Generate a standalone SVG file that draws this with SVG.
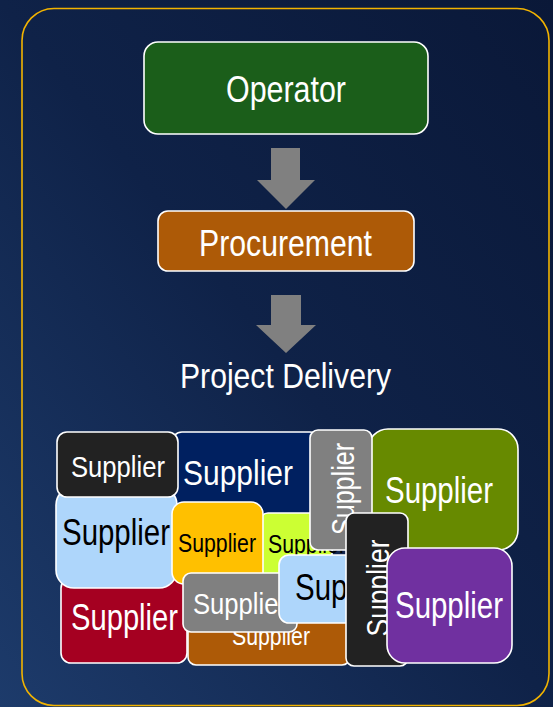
<svg xmlns="http://www.w3.org/2000/svg" width="553" height="707" viewBox="0 0 553 707">
  <defs>
    <linearGradient id="bg" x1="0" y1="1" x2="1" y2="0">
      <stop offset="0" stop-color="#1d3b6b"/>
      <stop offset="0.5" stop-color="#0f2248"/>
      <stop offset="1" stop-color="#0a1838"/>
    </linearGradient>
  </defs>
  <style>
    text { font-family: "Liberation Sans Narrow", "Liberation Sans", Arial, sans-serif; font-stretch: condensed; }
    .box { stroke: #ffffff; stroke-width: 1.6; }
    .w { fill: #ffffff; }
    .k { fill: #000000; }
    .arrow { fill: #808080; }
  </style>

  <rect x="0" y="0" width="553" height="707" fill="url(#bg)"/>
  <rect x="22" y="8.5" width="527" height="697" rx="32" fill="none" stroke="#f2b300" stroke-width="1.6"/>

  <!-- process chain -->
  <g id="operator">
    <rect class="box" x="144" y="42" width="284" height="92" rx="14" fill="#1b5e1a"/>
    <text class="w" x="286" y="102" font-size="37" text-anchor="middle" textLength="120" lengthAdjust="spacingAndGlyphs">Operator</text>
  </g>
  <g id="procurement">
    <rect class="box" x="158" y="211" width="256" height="60" rx="10" fill="#ad5a07"/>
    <text class="w" x="285.5" y="256" font-size="36" text-anchor="middle" textLength="173" lengthAdjust="spacingAndGlyphs">Procurement</text>
  </g>
  <g id="project-delivery">
    <text class="w" x="285.5" y="388" font-size="35" text-anchor="middle" textLength="211" lengthAdjust="spacingAndGlyphs">Project Delivery</text>
  </g>

  <g id="connectors">
    <polygon class="arrow" points="271,148 300,148 300,180 315,180 286,209 257,180 271,180"/>
    <polygon class="arrow" points="271,295 301,295 301,325 316,325 286,353 256,325 271,325"/>
  </g>

  <!-- supplier cluster, back to front -->
  <g id="supplier-navy">
    <rect class="box" x="172" y="432" width="148" height="84" rx="10" fill="#002060"/>
    <text class="w" x="183" y="485" font-size="35" textLength="110" lengthAdjust="spacingAndGlyphs">Supplier</text>
  </g>
  <g id="supplier-red">
    <rect class="box" x="61" y="578" width="126" height="85" rx="10" fill="#a50021"/>
    <text class="w" x="71" y="630" font-size="36" textLength="107" lengthAdjust="spacingAndGlyphs">Supplier</text>
  </g>
  <g id="supplier-lightblue-1">
    <rect class="box" x="56" y="487" width="121" height="101" rx="18" fill="#aed6fb"/>
    <text class="k" x="62" y="545" font-size="36" textLength="108" lengthAdjust="spacingAndGlyphs">Supplier</text>
  </g>
  <g id="supplier-black">
    <rect class="box" x="57" y="432" width="121" height="65" rx="10" fill="#222222"/>
    <text class="w" x="71" y="477" font-size="30" textLength="94" lengthAdjust="spacingAndGlyphs">Supplier</text>
  </g>
  <g id="supplier-olive">
    <rect class="box" x="368" y="429" width="150" height="121" rx="20" fill="#678a00"/>
    <text class="w" x="385" y="503" font-size="36" textLength="108" lengthAdjust="spacingAndGlyphs">Supplier</text>
  </g>
  <g id="supplier-lime">
    <rect class="box" x="260" y="513" width="72" height="62" rx="8" fill="#ccff33"/>
    <text class="k" x="268" y="553" font-size="25" textLength="78" lengthAdjust="spacingAndGlyphs">Supplier</text>
  </g>
  <g id="supplier-gold">
    <rect class="box" x="172" y="502" width="91" height="82" rx="12" fill="#ffc000"/>
    <text class="k" x="178" y="552" font-size="25" textLength="78" lengthAdjust="spacingAndGlyphs">Supplier</text>
  </g>
  <g id="supplier-brown">
    <rect class="box" x="188" y="600" width="162" height="65" rx="8" fill="#ad5a07"/>
    <text class="w" x="232" y="645" font-size="25" textLength="78" lengthAdjust="spacingAndGlyphs">Supplier</text>
  </g>
  <g id="supplier-gray">
    <rect class="box" x="183" y="573" width="114" height="59" rx="8" fill="#808080"/>
    <text class="w" x="193" y="614" font-size="30" textLength="94" lengthAdjust="spacingAndGlyphs">Supplier</text>
  </g>
  <g id="supplier-lightblue-2">
    <rect class="box" x="279" y="555" width="80" height="68" rx="10" fill="#aed6fb"/>
    <text class="k" x="295" y="600" font-size="36" textLength="108" lengthAdjust="spacingAndGlyphs">Supplier</text>
  </g>
  <g id="supplier-gray-vertical">
    <rect class="box" x="310" y="430" width="62" height="120" rx="8" fill="#808080"/>
    <text class="w" transform="translate(354 489) rotate(-90)" font-size="31" text-anchor="middle" textLength="92" lengthAdjust="spacingAndGlyphs">Supplier</text>
  </g>
  <g id="supplier-black-vertical">
    <rect class="box" x="346" y="513" width="62" height="153" rx="8" fill="#222222"/>
    <text class="w" transform="translate(389 588) rotate(-90)" font-size="31" text-anchor="middle" textLength="97" lengthAdjust="spacingAndGlyphs">Supplier</text>
  </g>
  <g id="supplier-purple">
    <rect class="box" x="387" y="548" width="125" height="115" rx="18" fill="#7030a0"/>
    <text class="w" x="395" y="618" font-size="36" textLength="108" lengthAdjust="spacingAndGlyphs">Supplier</text>
  </g>
</svg>
